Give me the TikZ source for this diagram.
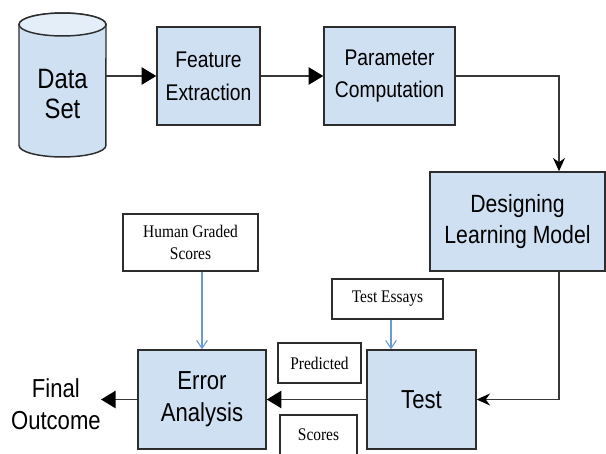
\documentclass[tikz,border=0pt]{standalone}
\usepackage{fontspec}
\newfontfamily\arialn{Liberation Sans}[FakeStretch=0.85]
\newfontfamily\timesn{Liberation Serif}[FakeStretch=0.87]
\usetikzlibrary{arrows.meta}
\definecolor{boxblue}{RGB}{206,224,242}
\definecolor{edgecol}{RGB}{45,45,45}
\definecolor{conncol}{RGB}{55,55,55}
\definecolor{lineblue}{RGB}{105,155,215}
\begin{document}
\begin{tikzpicture}[x=0.75pt,y=-0.75pt,
  box/.style={draw=edgecol,line width=1.1pt,fill=boxblue,align=center,inner sep=0pt},
  tbox/.style={draw=edgecol,line width=1.1pt,fill=white,align=center,inner sep=0pt},
  conn/.style={draw=conncol,line width=1.2pt},
  filltip/.style={-{Triangle[length=11pt,width=13pt,color=black]}},
  stealthtip/.style={-{Stealth[length=10pt,width=9pt,color=black]}},
  bluearrow/.style={draw=lineblue,line width=0.8pt,-{Straight Barb[length=6pt,width=8pt]}},
  bigtxt/.style={font=\arialn\fontsize{19.5}{24}\selectfont},
  midtxt/.style={font=\arialn\fontsize{17}{24.5}\selectfont},
  sertxt/.style={font=\timesn\fontsize{13.3}{16.5}\selectfont}]
\useasboundingbox (0,0) rectangle (606,453);
\clip (0,0) rectangle (606,453);
% cylinder
\filldraw[draw=edgecol,line width=1.1pt,fill=boxblue] (19,24.5) -- (19,145.5)
  arc[start angle=180,end angle=360,x radius=32.6pt,y radius=8.6pt] -- (106,24.5)
  arc[start angle=0,end angle=180,x radius=32.6pt,y radius=8.6pt] -- cycle;
\filldraw[draw=edgecol,line width=1.1pt,fill=boxblue!55] (62.5,24.5) ellipse[x radius=32.6pt,y radius=8.6pt];
\node[font=\arialn\fontsize{21}{22.5}\selectfont,align=center] (ds) at (62.5,94) {Data\\Set};
\coordinate (dsout) at (106,76);
\coordinate (c1) at (559,0);

\node[box,midtxt,minimum width=77.25pt,minimum height=73.5pt] (fe) at (208.5,76) {Feature\\Extraction};
\node[box,midtxt,minimum width=98.25pt,minimum height=73.5pt] (pc) at (389.5,76) {Parameter\\Computation};
\node[box,font=\arialn\fontsize{18.7}{23}\selectfont,minimum width=131.25pt,minimum height=74.25pt] (dlm) at (517.5,221.5) {Designing\\Learning Model};
\node[box,bigtxt,minimum width=81.75pt,minimum height=74.25pt] (test) at (421.5,399.5) {Test};
\node[box,bigtxt,minimum width=96pt,minimum height=74.25pt] (ea) at (202,399.5) {Error\\Analysis};
\node[bigtxt,align=center,anchor=east,inner sep=0pt] (fo) at (101,404) {Final\\Outcome};

\node[tbox,sertxt,minimum width=101.25pt,minimum height=42.75pt] (hgs) at (190.5,242.5) {Human Graded\\Scores};
\node[tbox,sertxt,minimum width=83.25pt,minimum height=30pt] (te) at (387.5,299) {Test Essays};
\node[tbox,sertxt,minimum width=62.25pt,minimum height=30pt] (pred) at (319.5,363) {Predicted};
\node[tbox,sertxt,minimum width=57.75pt,minimum height=33pt] (sc) at (318.5,437) {\raisebox{3pt}{Scores}};

\draw[conn,filltip] (dsout) -- (fe.west);
\draw[conn,filltip] (fe.east) -- (pc.west);
\draw[conn,stealthtip] (pc.east) -| (c1 |- dlm.north);
\draw[conn,stealthtip] (c1 |- dlm.south) |- (test.east);
\draw[conn,filltip] (test.west) -- (ea.east);
\draw[conn,filltip] (ea.west) -- (fo.east |- ea.west);
\draw[bluearrow] (hgs.south -| ea.north) -- (ea.north);
\draw[bluearrow] (te.south -| 391,0) -- (391,0 |- test.north);
\end{tikzpicture}
\end{document}
